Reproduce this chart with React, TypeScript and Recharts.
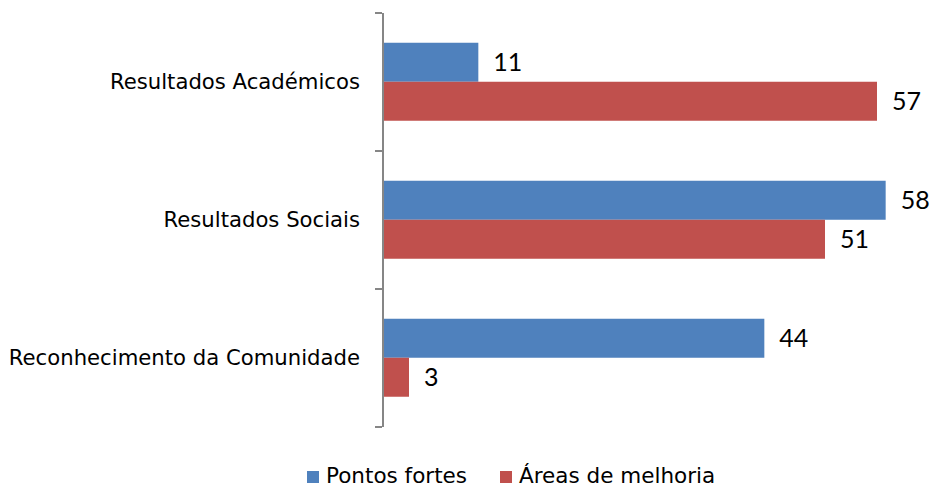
import React from "react";
import { BarChart, Bar, XAxis, YAxis, LabelList, Legend } from "recharts";

const categories = ["Resultados Académicos", "Resultados Sociais", "Reconhecimento da Comunidade"];
const pontosFortes = [11, 58, 44];
const areasMelhoria = [57, 51, 3];
const seriesNames = ["Pontos fortes", "Áreas de melhoria"];

const data = categories.map((c, i) => ({ name: c, pf: pontosFortes[i], am: areasMelhoria[i] }));

const BLUE = "#4F81BD";
const RED = "#C0504D";
const LABEL_FONT = "'DejaVu Sans', Tahoma, sans-serif";
const VALUE_FONT = "Lato, 'Liberation Sans', sans-serif";

const CategoryTick = (props: any) => {
  const { x, y, payload, index, visibleTicksCount } = props;
  const half = payload.offset || 0;
  const ax = x + 7; // axis line position (tick size)
  return (
    <g>
      <line x1={ax - 7} x2={ax} y1={y - half} y2={y - half} stroke="#868686" strokeWidth={2} />
      {index === visibleTicksCount - 1 && (
        <line x1={ax - 7} x2={ax} y1={y + half} y2={y + half} stroke="#868686" strokeWidth={2} />
      )}
      <text x={x - 15} y={y} dy={7} textAnchor="end" fontSize={21.2} fontFamily={LABEL_FONT} fill="#000">
        {payload.value}
      </text>
    </g>
  );
};

const LegendContent = (props: any) => {
  const { payload } = props;
  return (
    <div style={{ display: "flex", justifyContent: "flex-start", alignItems: "center", fontFamily: LABEL_FONT, fontSize: 21.5, lineHeight: "20px", paddingLeft: 307 }}>
      {payload.map((p: any, i: number) => (
        <div key={i} style={{ display: "flex", alignItems: "center", marginRight: i === 0 ? 33 : 0 }}>
          <span style={{ display: "inline-block", width: 12, height: 12, background: p.color, marginRight: 7, position: "relative", top: 1 }} />
          <span style={{ color: "#000" }}>{p.value}</span>
        </div>
      ))}
    </div>
  );
};

export default function App() {
  return (
    <div style={{ position: "absolute", left: 0, top: 0, width: 931, height: 488, background: "#fff" }}>
      <BarChart
        width={931}
        height={488}
        data={data}
        layout="vertical"
        margin={{ top: 13, right: 28, left: 0, bottom: 0 }}
        barCategoryGap="21.5%"
        barGap={0}
      >
        <XAxis type="number" domain={[0, 60]} hide />
        <YAxis
          type="category"
          dataKey="name"
          width={383}
          axisLine={{ stroke: "#868686", strokeWidth: 2 }}
          tickLine={false}
          tick={<CategoryTick />}
          interval={0}
        />
        <Legend
          verticalAlign="bottom"
          height={61}
          content={<LegendContent />}
          wrapperStyle={{ position: "absolute", top: 466, left: 0, width: 931 }}
        />
        <Bar dataKey="pf" name={seriesNames[0]} fill={BLUE} isAnimationActive={false}>
          <LabelList dataKey="pf" position="right" offset={15} fontSize={25} fontFamily={VALUE_FONT} fill="#000" />
        </Bar>
        <Bar dataKey="am" name={seriesNames[1]} fill={RED} isAnimationActive={false}>
          <LabelList dataKey="am" position="right" offset={15} fontSize={25} fontFamily={VALUE_FONT} fill="#000" />
        </Bar>
      </BarChart>
    </div>
  );
}
